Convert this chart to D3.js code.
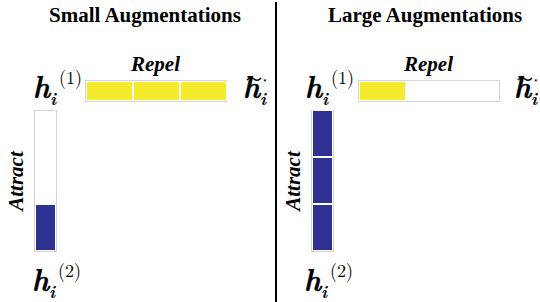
<!DOCTYPE html>
<html>
<head>
<meta charset="utf-8">
<script src="https://cdn.jsdelivr.net/npm/d3@7"></script>
</head>
<body style="margin:0; background:#fff">
<div id="vis"></div>
<script>
var w = 540;
var h = 302;

// chart values
var panels = ['Small Augmentations', 'Large Augmentations'];
var repelUnits = [3, 1];
var attractUnits = [1, 3];
var maxUnits = 3;

// where each panel sits
var layout = [
  { titleX: 145, repelX: 85, attractX: 34, hX: 33, hTildeX: 243 },
  { titleX: 425, repelX: 358, attractX: 311, hX: 305, hTildeX: 514 }
];

var barLen = 141;
var barThick = 22;
var repelY = 80;
var attractY = 110;

var yellow = '#f5eb2d';
var blue = '#2e3192';
var serif = 'Liberation Serif';
var mathFont = 'Latin Modern Roman';

var svg = d3.select('#vis')
  .append('svg')
    .attr('width', w)
    .attr('height', h)
    .style('display', 'block')
    .style('background', '#ffffff');

var len = d3.scaleLinear()
  .domain([0, maxUnits])
  .range([0, barLen]);

// divider between the panels
svg.append('line')
  .attr('x1', 276).attr('x2', 276)
  .attr('y1', 2).attr('y2', h)
  .attr('stroke', '#000')
  .attr('stroke-width', 2);

// math label h_i^(sup); no sup means the tilde/star version
function hLabel(g, x, y, sup) {
  var t = g.append('text')
    .attr('font-family', mathFont)
    .attr('fill', '#000');
  t.append('tspan')
    .attr('x', x).attr('y', y)
    .text('h')
    .attr('font-style', 'italic')
    .attr('font-weight', 'bold')
    .attr('font-size', 29)
    .attr('stroke', '#000')
    .attr('stroke-width', 0.4);
  t.append('tspan')
    .attr('x', x + 17).attr('y', y + 8)
    .text('i')
    .attr('font-style', 'italic')
    .attr('font-weight', 'bold')
    .attr('font-size', 17);
  if (sup) {
    t.append('tspan')
      .attr('x', x + 26).attr('y', y - 13)
      .text('(' + sup + ')')
      .attr('font-size', 18);
  } else {
    t.append('tspan')
      .attr('x', x + 19).attr('y', y - 14)
      .text('\u22c6')
      .attr('font-family', 'DejaVu Sans')
      .attr('font-size', 9);
    // tilde over the h
    g.append('path')
      .attr('d', 'M' + (x + 4) + ',' + (y - 17) + ' q3.5,-4 7,-1 t7,-1')
      .attr('fill', 'none')
      .attr('stroke', '#000')
      .attr('stroke-width', 1.5);
  }
}

panels.forEach(function(name, i) {
  var L = layout[i];
  var g = svg.append('g').attr('class', 'panel');

  g.append('text')
    .attr('x', L.titleX).attr('y', 22)
    .attr('text-anchor', 'middle')
    .attr('font-family', serif)
    .attr('font-weight', 'bold')
    .attr('font-size', 21)
    .text(name);

  // repel bar (horizontal)
  g.append('rect')
    .attr('x', L.repelX + 0.5).attr('y', repelY + 0.5)
    .attr('width', barLen).attr('height', barThick - 1)
    .attr('fill', '#fff')
    .attr('stroke', '#d4d4d4');
  g.selectAll('.repel')
    .data(d3.range(repelUnits[i]))
    .enter()
    .append('rect')
      .attr('class', 'repel')
      .attr('x', function(d) { return L.repelX + 1.5 + len(d); })
      .attr('y', repelY + 1.5)
      .attr('width', len(1) - 1)
      .attr('height', barThick - 3)
      .attr('fill', yellow)
      .attr('stroke', '#fff')
      .attr('stroke-width', 1);

  g.append('text')
    .attr('x', L.repelX + barLen / 2).attr('y', 71)
    .attr('text-anchor', 'middle')
    .attr('font-family', serif)
    .attr('font-weight', 'bold')
    .attr('font-style', 'italic')
    .attr('font-size', 21)
    .text('Repel');

  // attract bar (vertical, fills from the bottom)
  var bottom = attractY + barLen;
  g.append('rect')
    .attr('x', L.attractX + 0.5).attr('y', attractY + 0.5)
    .attr('width', barThick).attr('height', barLen)
    .attr('fill', '#fff')
    .attr('stroke', '#d4d4d4');
  g.selectAll('.attract')
    .data(d3.range(attractUnits[i]))
    .enter()
    .append('rect')
      .attr('class', 'attract')
      .attr('x', L.attractX + 1.5)
      .attr('y', function(d) { return bottom - len(d + 1) + 0.5; })
      .attr('width', barThick - 2)
      .attr('height', len(1) - 1)
      .attr('fill', blue)
      .attr('stroke', '#fff')
      .attr('stroke-width', 1);

  g.append('text')
    .attr('transform', 'translate(' + (L.attractX - 11) + ',' + (attractY + 71) + ') rotate(-90)')
    .attr('text-anchor', 'middle')
    .attr('font-family', serif)
    .attr('font-weight', 'bold')
    .attr('font-style', 'italic')
    .attr('font-size', 21)
    .text('Attract');

  hLabel(g, L.hX, 97, 1);
  hLabel(g, L.hX - 1, 290, 2);
  hLabel(g, L.hTildeX, 97, null);
});
</script>
</body>
</html>
